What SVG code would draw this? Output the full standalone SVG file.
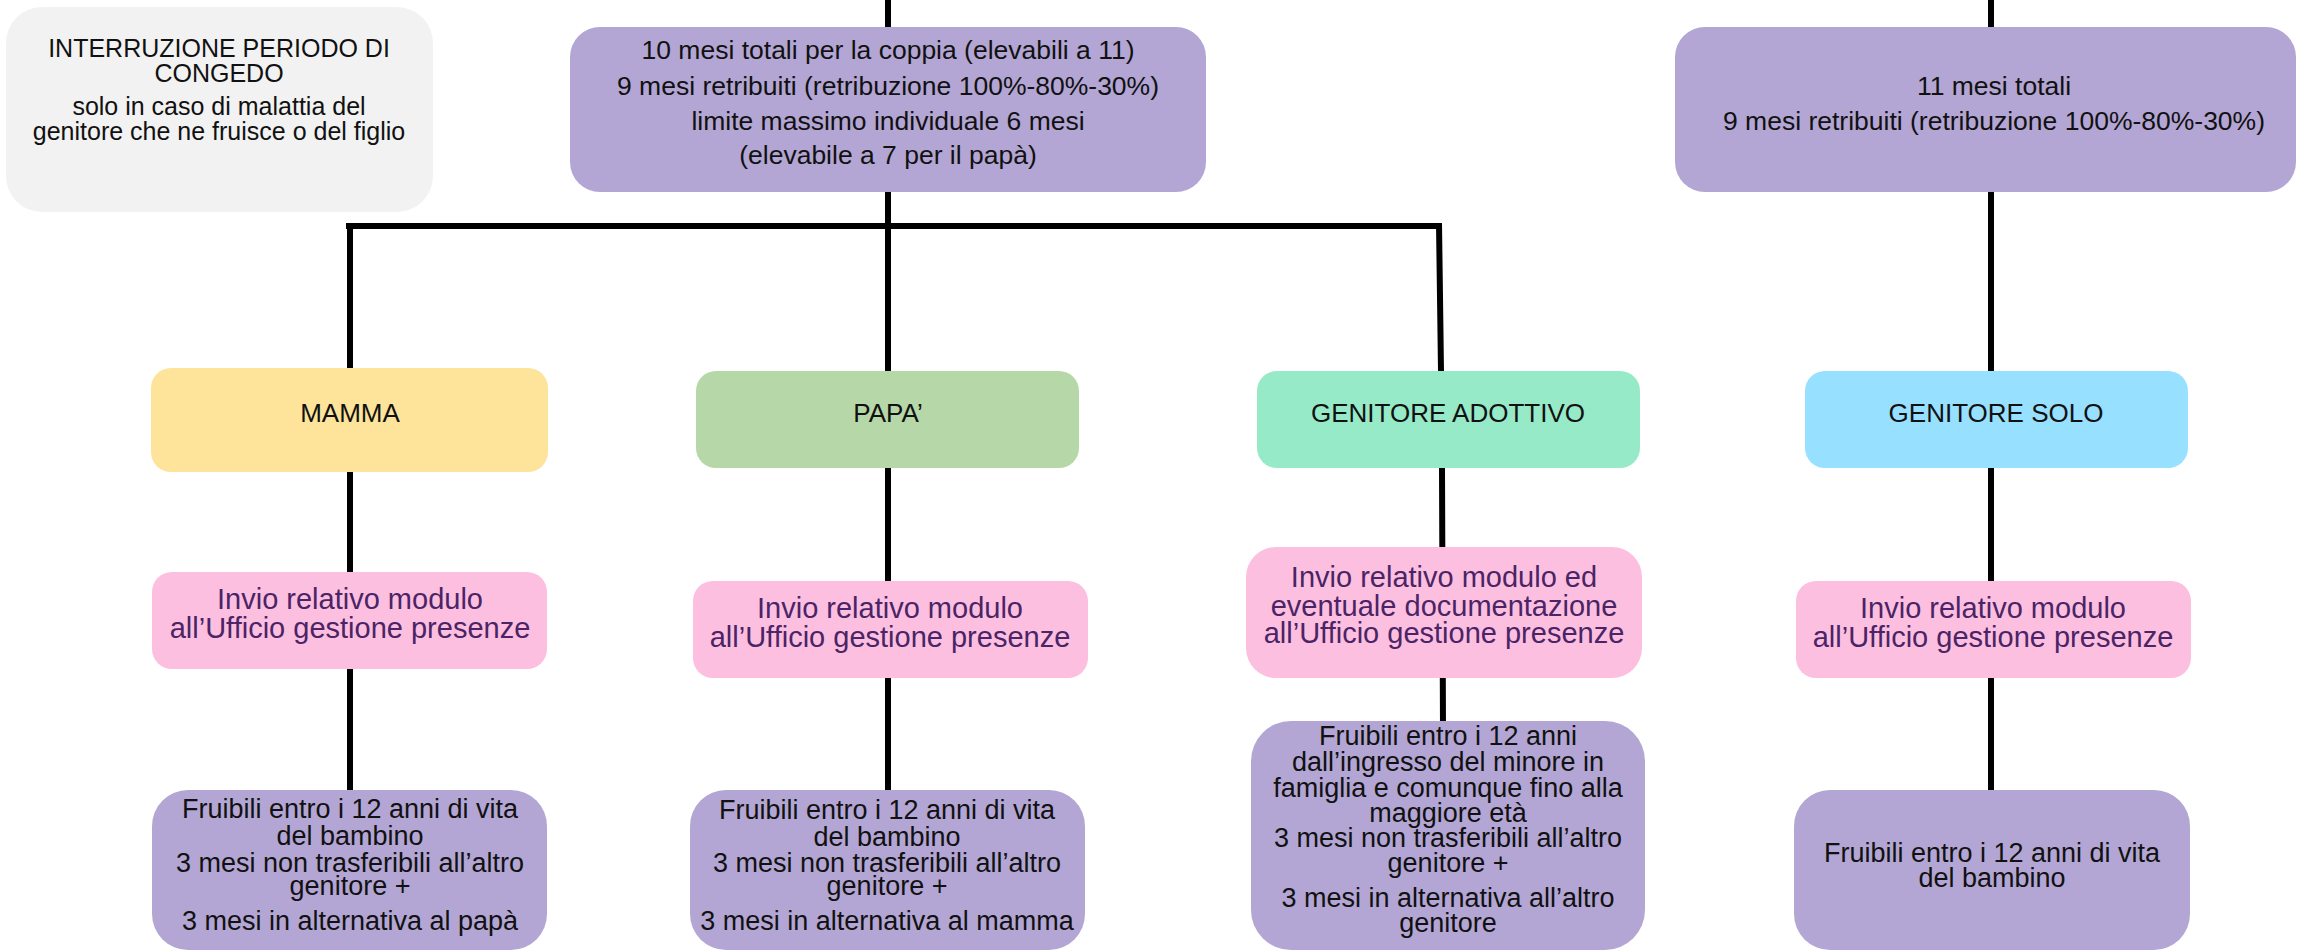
<svg xmlns="http://www.w3.org/2000/svg" width="2298" height="952" viewBox="0 0 2298 952">
<style>
text{font-family:"Liberation Sans",Arial,sans-serif;text-anchor:middle;fill:#111}
.t25{font-size:25px}
.t26{font-size:26.5px}
.t27{font-size:27px}
.pk{font-size:29px;fill:#4a2466}
.hd{font-size:26px}
.conn{stroke:#000;stroke-width:6;fill:none}
.purple{fill:#b3a6d4}
.grey{fill:#f2f2f2}
.pink{fill:#fdbfdf}
</style>
<rect width="2298" height="952" fill="#fff"/>
<g id="connectors">
<line class="conn" x1="888" y1="0" x2="888" y2="800"/>
<line class="conn" x1="1991" y1="0" x2="1991" y2="800"/>
<line class="conn" x1="346" y1="226" x2="1442" y2="226"/>
<line class="conn" x1="350" y1="223" x2="350" y2="800"/>
<path class="conn" d="M1439 223 L1441 371 M1442 468 L1443 730"/>
</g>
<g id="interruzione">
<rect class="grey" x="6" y="7" width="427" height="205" rx="36"/>
<text class="t25" x="219" y="57">INTERRUZIONE PERIODO DI</text>
<text class="t25" x="219" y="82">CONGEDO</text>
<text class="t25" x="219" y="115">solo in caso di malattia del</text>
<text class="t25" x="219" y="140">genitore che ne fruisce o del figlio</text>
</g>
<g id="coppia">
<rect class="purple" x="570" y="27" width="636" height="165" rx="30"/>
<text class="t26" x="888" y="59">10 mesi totali per la coppia (elevabili a 11)</text>
<text class="t26" x="888" y="95">9 mesi retribuiti (retribuzione 100%-80%-30%)</text>
<text class="t26" x="888" y="130">limite massimo individuale 6 mesi</text>
<text class="t26" x="888" y="164">(elevabile a 7 per il papà)</text>
</g>
<g id="solo-totali">
<rect class="purple" x="1675" y="27" width="621" height="165" rx="30"/>
<text class="t26" x="1994" y="95">11 mesi totali</text>
<text class="t26" x="1994" y="130">9 mesi retribuiti (retribuzione 100%-80%-30%)</text>
</g>
<g id="mamma">
<rect x="151" y="368" width="397" height="104" rx="20" fill="#fee49a"/>
<text class="hd" x="350" y="422">MAMMA</text>
</g>
<g id="papa">
<rect x="696" y="371" width="383" height="97" rx="20" fill="#b6d7a8"/>
<text class="hd" x="888" y="422">PAPA’</text>
</g>
<g id="adottivo">
<rect x="1257" y="371" width="383" height="97" rx="20" fill="#96eac8"/>
<text class="hd" x="1448" y="422">GENITORE ADOTTIVO</text>
</g>
<g id="genitore-solo">
<rect x="1805" y="371" width="383" height="97" rx="20" fill="#98e0ff"/>
<text class="hd" x="1996" y="422">GENITORE SOLO</text>
</g>
<g id="invio-mamma">
<rect class="pink" x="152" y="572" width="395" height="97" rx="20"/>
<text class="pk" x="350" y="609">Invio relativo modulo</text>
<text class="pk" x="350" y="638">all’Ufficio gestione presenze</text>
</g>
<g id="invio-papa">
<rect class="pink" x="693" y="581" width="395" height="97" rx="20"/>
<text class="pk" x="890" y="618">Invio relativo modulo</text>
<text class="pk" x="890" y="647">all’Ufficio gestione presenze</text>
</g>
<g id="invio-adottivo">
<rect class="pink" x="1246" y="547" width="396" height="131" rx="30"/>
<text class="pk" x="1444" y="587">Invio relativo modulo ed</text>
<text class="pk" x="1444" y="616">eventuale documentazione</text>
<text class="pk" x="1444" y="643">all’Ufficio gestione presenze</text>
</g>
<g id="invio-solo">
<rect class="pink" x="1796" y="581" width="395" height="97" rx="20"/>
<text class="pk" x="1993" y="618">Invio relativo modulo</text>
<text class="pk" x="1993" y="647">all’Ufficio gestione presenze</text>
</g>
<g id="fruibili-mamma">
<rect class="purple" x="152" y="790" width="395" height="160" rx="36"/>
<text class="t27" x="350" y="818">Fruibili entro i 12 anni di vita</text>
<text class="t27" x="350" y="845">del bambino</text>
<text class="t27" x="350" y="872">3 mesi non trasferibili all’altro</text>
<text class="t27" x="350" y="895">genitore +</text>
<text class="t27" x="350" y="930">3 mesi in alternativa al papà</text>
</g>
<g id="fruibili-papa">
<rect class="purple" x="690" y="790" width="395" height="160" rx="36"/>
<text class="t27" x="887" y="819">Fruibili entro i 12 anni di vita</text>
<text class="t27" x="887" y="846">del bambino</text>
<text class="t27" x="887" y="872">3 mesi non trasferibili all’altro</text>
<text class="t27" x="887" y="895">genitore +</text>
<text class="t27" x="887" y="930">3 mesi in alternativa al mamma</text>
</g>
<g id="fruibili-adottivo">
<rect class="purple" x="1251" y="721" width="394" height="229" rx="40"/>
<text class="t27" x="1448" y="745">Fruibili entro i 12 anni</text>
<text class="t27" x="1448" y="771">dall’ingresso del minore in</text>
<text class="t27" x="1448" y="797">famiglia e comunque fino alla</text>
<text class="t27" x="1448" y="822">maggiore età</text>
<text class="t27" x="1448" y="847">3 mesi non trasferibili all’altro</text>
<text class="t27" x="1448" y="872">genitore +</text>
<text class="t27" x="1448" y="907">3 mesi in alternativa all’altro</text>
<text class="t27" x="1448" y="932">genitore</text>
</g>
<g id="fruibili-solo">
<rect class="purple" x="1794" y="790" width="396" height="160" rx="36"/>
<text class="t27" x="1992" y="862">Fruibili entro i 12 anni di vita</text>
<text class="t27" x="1992" y="887">del bambino</text>
</g>
</svg>
